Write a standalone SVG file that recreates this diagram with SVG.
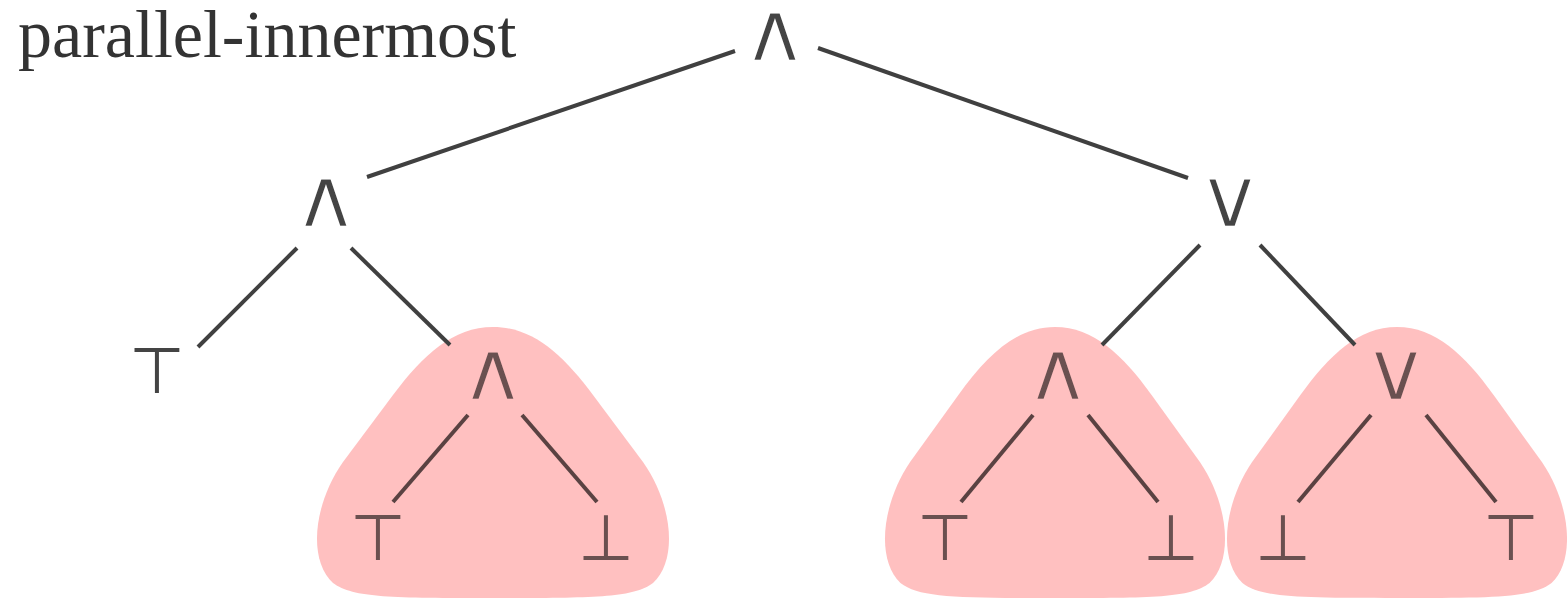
<svg xmlns="http://www.w3.org/2000/svg" width="1567" height="600" viewBox="0 0 1567 600">
<style>
.t{font-family:"Liberation Serif","Times New Roman",serif;font-size:68px;fill:#333}
.s{font-family:"DejaVu Sans",sans-serif;font-size:64px;fill:#444;text-anchor:middle}
.o{font-family:"DejaVu Sans",sans-serif;font-size:84px;fill:#444;text-anchor:middle;stroke:#fff;stroke-width:2.5}
.p{fill:#6a5050}
.o.p{stroke:#ffc0c0}
.e{stroke:#404040;stroke-width:4;fill:none}
.ep{stroke:#5a4242}
.blob{fill:#ffc0c0}
</style>
<defs>
<path id="blob" d="M0,327 C40,327 70,355 100,395 L150,462 C180,505 185,560 160,583 C140,598 100,598 0,598 C-100,598 -140,598 -160,583 C-185,560 -180,505 -150,462 L-100,395 C-70,355 -40,327 0,327 Z"/>
</defs>
<rect width="1567" height="600" fill="#fff"/>
<g id="clusters">
<use href="#blob" class="blob" transform="translate(493,0)"/>
<use href="#blob" class="blob" transform="translate(1055,0) scale(0.966,1)"/>
<use href="#blob" class="blob" transform="translate(1397,0) scale(0.966,1)"/>
</g>
<text class="t" x="18" y="57">parallel-innermost</text>
<g id="connectors">
<line class="e" x1="735" y1="51" x2="367" y2="177"/>
<line class="e" x1="818" y1="48" x2="1188" y2="178"/>
<line class="e" x1="297" y1="248" x2="198" y2="347"/>
<line class="e" x1="351" y1="248" x2="450" y2="345"/>
<line class="e ep" x1="468" y1="415" x2="393" y2="502"/>
<line class="e ep" x1="522" y1="415" x2="597" y2="502"/>
<line class="e" x1="1200" y1="245" x2="1102" y2="345"/>
<line class="e" x1="1260" y1="245" x2="1355" y2="345"/>
<line class="e ep" x1="1033" y1="415" x2="961" y2="502"/>
<line class="e ep" x1="1088" y1="415" x2="1158" y2="502"/>
<line class="e ep" x1="1371" y1="415" x2="1298" y2="502"/>
<line class="e ep" x1="1426" y1="415" x2="1496" y2="502"/>
</g>
<g id="n_root"><text class="o" transform="translate(775,61) scale(1.12,1)">∧</text></g>
<g id="n_l"><text class="o" transform="translate(326,227) scale(1.12,1)">∧</text></g>
<g id="n_r"><text class="o" transform="translate(1230,227) scale(1.12,1)">∨</text></g>
<g id="n_ll"><text class="s" x="157" y="393">⊤</text></g>
<g id="n_lr"><text class="o p" transform="translate(493,400) scale(1.12,1)">∧</text></g>
<g id="n_lrl"><text class="s p" x="378" y="560">⊤</text></g>
<g id="n_lrr"><text class="s p" x="606" y="560">⊥</text></g>
<g id="n_rl"><text class="o p" transform="translate(1058,400) scale(1.12,1)">∧</text></g>
<g id="n_rll"><text class="s p" x="945" y="560">⊤</text></g>
<g id="n_rlr"><text class="s p" x="1171" y="560">⊥</text></g>
<g id="n_rr"><text class="o p" transform="translate(1396,400) scale(1.12,1)">∨</text></g>
<g id="n_rrl"><text class="s p" x="1283" y="560">⊥</text></g>
<g id="n_rrr"><text class="s p" x="1511" y="560">⊤</text></g>
</svg>
